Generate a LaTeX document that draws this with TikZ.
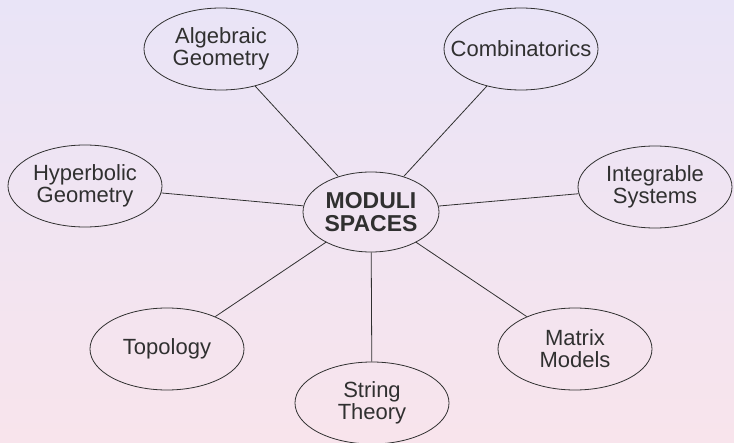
\documentclass[tikz,border=0pt]{standalone}
\usepackage{fontspec}
\setmainfont{Liberation Sans}
\usetikzlibrary{shapes.geometric}
\definecolor{bgtop}{HTML}{E9E4F7}
\definecolor{bgbot}{HTML}{F8E4EC}
\definecolor{ink}{HTML}{303030}
\begin{document}
\begin{tikzpicture}[x=1pt,y=-1pt,
  topic/.style={ellipse, draw=ink, line width=0.8pt, minimum width=154pt, minimum height=82pt,
    inner sep=0pt, align=center, text=ink, font=\fontsize{22}{22}\selectfont},
  hub/.style={topic, minimum width=136pt, minimum height=80pt, font=\fontsize{23}{23}\selectfont\bfseries},
  link/.style={draw=ink, line width=0.8pt}]
\shade[top color=bgtop, bottom color=bgbot] (0,0) rectangle (734,443);
\useasboundingbox (0,0) rectangle (734,443);
\node[hub] (c) at (371,212) {MODULI\\SPACES};
\node[topic] (alg) at (221,49) {Algebraic\\Geometry};
\node[topic, inner xsep=-16pt] (comb) at (521,49) {Combinatorics};
\node[topic] (hyp) at (85,186) {Hyperbolic\\Geometry};
\node[topic] (int) at (655,187) {Integrable\\Systems};
\node[topic] (top) at (167,349) {Topology};
\node[topic] (mat) at (575,349) {Matrix\\Models};
\node[topic] (str) at (372,403) {String\\Theory};
\foreach \n in {alg,comb,hyp,int,top,mat,str}
  \draw[link] (c) -- (\n);
\end{tikzpicture}
\end{document}
